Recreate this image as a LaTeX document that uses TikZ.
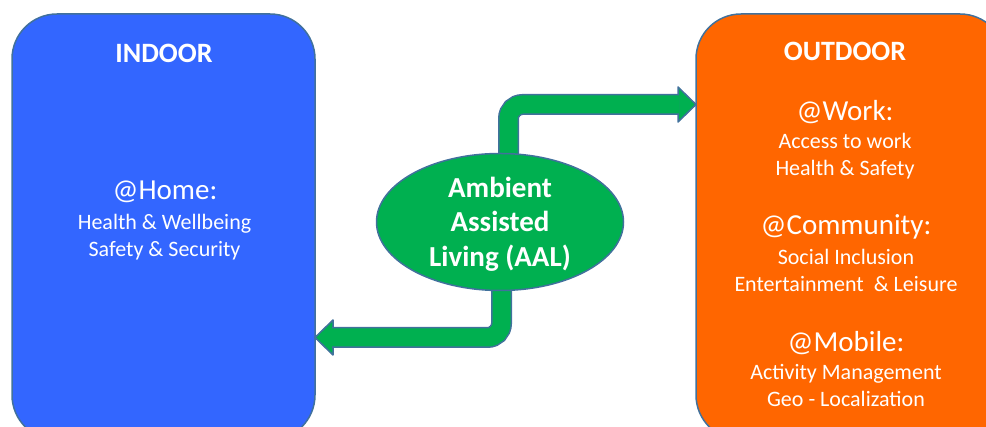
\documentclass[tikz,border=0pt]{standalone}
\usepackage{fontspec}
\setmainfont{Carlito}
\usetikzlibrary{positioning, shapes.geometric}

\definecolor{indoorblue}{HTML}{3366FF}
\definecolor{outdoororange}{HTML}{FF6600}
\definecolor{aalgreen}{HTML}{00B050}
\definecolor{edgeblue}{HTML}{41719C}

\begin{document}
\begin{tikzpicture}[
    x=1pt, y=1pt,
    zone/.style={rectangle, rounded corners=45pt, draw=edgeblue, line width=1.5pt, minimum height=426pt, outer sep=0pt},
    aal/.style={ellipse, fill=aalgreen, draw=edgeblue, line width=1.5pt, minimum width=247pt, minimum height=137pt, outer sep=0pt},
    zonetitle/.style={anchor=base, text=white, inner sep=0pt, font=\bfseries\fontsize{28}{34}\selectfont},
    placename/.style={anchor=base, text=white, inner sep=0pt, font=\fontsize{29}{35}\selectfont},
    usecase/.style={anchor=base, text=white, inner sep=0pt, font=\fontsize{22}{27}\selectfont},
    aallabel/.style={anchor=base, text=white, inner sep=0pt, font=\bfseries\fontsize{29}{35}\selectfont},
    fatshaft/.style={draw=aalgreen, line width=18pt, rounded corners=14pt, preaction={draw=edgeblue, line width=21pt}},
    fathead/.style={fill=aalgreen, draw=edgeblue, line width=1.5pt, line join=round},
]
    \useasboundingbox (0,0) rectangle (986,427);
    \clip (0,0) rectangle (986,427);

    % Zones
    \node[zone, fill=indoorblue, minimum width=303pt] (indoor) at (163.5,200) {};
    \node[zone, fill=outdoororange, minimum width=309pt] (outdoor) at (850.5,200) {};

    % Arrows out of the hub
    \coordinate (hub) at (500,205);
    \coordinate (uptip) at (outdoor.west |- 0,322.5);
    \coordinate (downtip) at (indoor.east |- 0,89.5);

    \draw[fathead] ([xshift=-18pt]uptip) ++(0,17.5) -- (uptip) -- ++(-18,-17.5) -- cycle;
    \draw[fatshaft] ([xshift=8.5pt]hub) |- ([xshift=-17pt]uptip);

    \draw[fathead] ([xshift=18pt]downtip) ++(0,17.5) -- (downtip) -- ++(18,-17.5) -- cycle;
    \draw[fatshaft] ([xshift=1.5pt]hub) |- ([xshift=17pt]downtip);

    % Hub
    \node[aal] (aal) at (hub) {};
    \foreach \y/\txt [count=\i] in {229/Ambient, 195/Assisted, 160/Living (AAL)}
        \node[aallabel] (aal-\i) at (500,\y) {\txt};

    % Indoor
    \node[zonetitle] (indoor-title) at (164,364) {INDOOR};
    \node[placename] (home) at (165,227) {@Home:};
    \foreach \y/\txt [count=\i] in {197/Health \& Wellbeing, 170/Safety \& Security}
        \node[usecase] (home-\i) at (164.5,\y) {\txt};

    % Outdoor
    \node[zonetitle] (outdoor-title) at (845,366) {OUTDOOR};
    \node[placename] (work) at (845,306) {@Work:};
    \foreach \y/\txt [count=\i] in {278/Access to work, 251/Health \& Safety}
        \node[usecase] (work-\i) at (845,\y) {\txt};
    \node[placename] (community) at (846,192) {@Community:};
    \foreach \y/\txt [count=\i] in {162/Social Inclusion, 135/Entertainment\ \ \& Leisure}
        \node[usecase] (community-\i) at (846,\y) {\txt};
    \node[placename] (mobile) at (846,75) {@Mobile:};
    \foreach \y/\txt [count=\i] in {47/Activity Management, 20/Geo - Localization}
        \node[usecase] (mobile-\i) at (846,\y) {\txt};
\end{tikzpicture}
\end{document}
